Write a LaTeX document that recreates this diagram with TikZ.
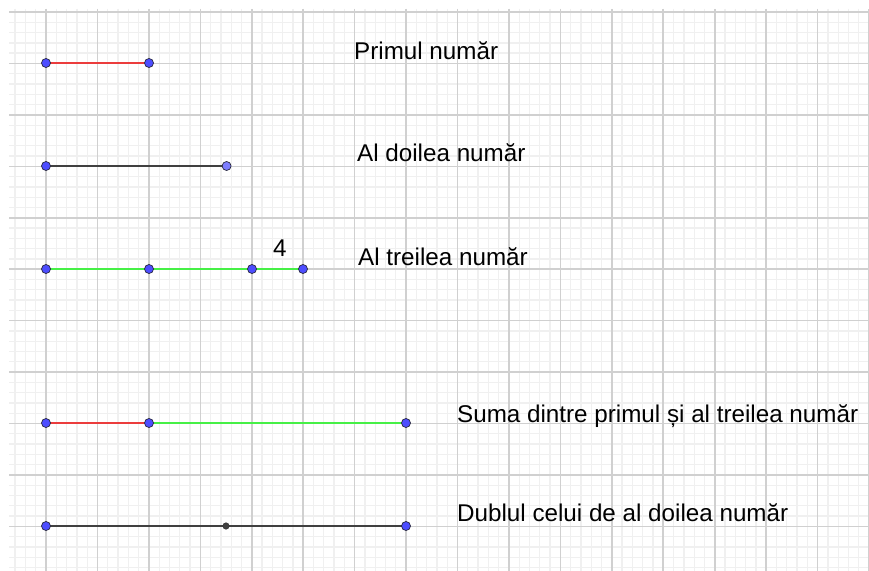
\documentclass[tikz,border=0pt]{standalone}
\usepackage{fontspec}
\setmainfont{Liberation Sans}
\definecolor{minorc}{RGB}{240,240,240}
\definecolor{majorc}{RGB}{208,208,208}
\definecolor{ptblue}{RGB}{77,77,255}
\definecolor{ptlight}{RGB}{125,125,255}
\definecolor{ptedge}{RGB}{40,40,60}
\definecolor{segred}{RGB}{235,60,60}
\definecolor{seggreen}{RGB}{70,240,70}
\definecolor{seggray}{RGB}{64,64,64}
\tikzset{
  minorline/.style={draw=minorc,line width=1.3bp},
  majorline/.style={draw=majorc,line width=1.6bp},
  seg/.style={line width=2.2bp},
  pt/.style={circle,inner sep=0pt,minimum size=9bp,fill=ptblue,draw=ptedge,line width=0.7bp},
  ptl/.style={pt,fill=ptlight},
  ptdark/.style={circle,inner sep=0pt,minimum size=6.5bp,fill=seggray,draw=black!80,line width=0.5bp},
  lbl/.style={anchor=base west,inner sep=0pt,font=\fontsize{24.3}{29}\selectfont}
}
\begin{document}
\begin{tikzpicture}[x=1bp,y=-1bp]
\useasboundingbox[fill=white] (0,0) rectangle (869,571);
% minor grid
\foreach \k in {-3,...,80} {\draw[minorline] ({46+\k*10.288},9) -- ({46+\k*10.288},571);}
\foreach \k in {0,...,54} {\draw[minorline] (9,{12+\k*10.288}) -- (869,{12+\k*10.288});}
% major grid
\foreach \k in {0,...,16} {\draw[majorline] ({46+\k*51.44},9) -- ({46+\k*51.44},571);}
\foreach \k in {0,...,10} {\draw[majorline] (9,{12+\k*51.44}) -- (869,{12+\k*51.44});}
% coordinates
\coordinate (a1) at (46,63);  \coordinate (b1) at (149,63);
\coordinate (a2) at (46,166); \coordinate (b2) at (226.6,166);
\coordinate (a3) at (46,269); \coordinate (c3) at (149,269); \coordinate (d3) at (252,269); \coordinate (b3) at (303,269);
\coordinate (a4) at (46,423); \coordinate (c4) at (149,423); \coordinate (b4) at (406,423);
\coordinate (a5) at (46,526); \coordinate (m5) at (226,526); \coordinate (b5) at (406,526);
% segments
\draw[seg,segred] (a1) -- (b1);
\draw[seg,seggray] (a2) -- (b2);
\draw[seg,seggreen] (a3) -- (b3);
\draw[seg,segred] (a4) -- (c4);
\draw[seg,seggreen] (c4) -- (b4);
\draw[seg,seggray] (a5) -- (b5);
% points
\node[pt] (pa1) at (a1) {}; \node[pt] (pb1) at (b1) {};
\node[pt] (pa2) at (a2) {}; \node[ptl] (pb2) at (b2) {};
\node[pt] (pa3) at (a3) {}; \node[pt] (pc3) at (c3) {}; \node[pt] (pd3) at (d3) {}; \node[pt] (pb3) at (b3) {};
\node[pt] (pa4) at (a4) {}; \node[pt] (pc4) at (c4) {}; \node[pt] (pb4) at (b4) {};
\node[pt] (pa5) at (a5) {}; \node[ptdark] (pm5) at (m5) {}; \node[pt] (pb5) at (b5) {};
% labels
\node[lbl] (t1) at (354,60) {Primul număr};
\node[lbl] (t2) at (357,161.7) {Al doilea număr};
\node[lbl] (t3) at (358,265) {Al treilea număr};
\node[lbl] (t4) at (457,422.7) {Suma dintre primul și al treilea număr};
\node[lbl] (t5) at (457,521) {Dublul celui de al doilea număr};
\node[lbl] (four) at (273,256.7) {4};
\end{tikzpicture}
\end{document}
